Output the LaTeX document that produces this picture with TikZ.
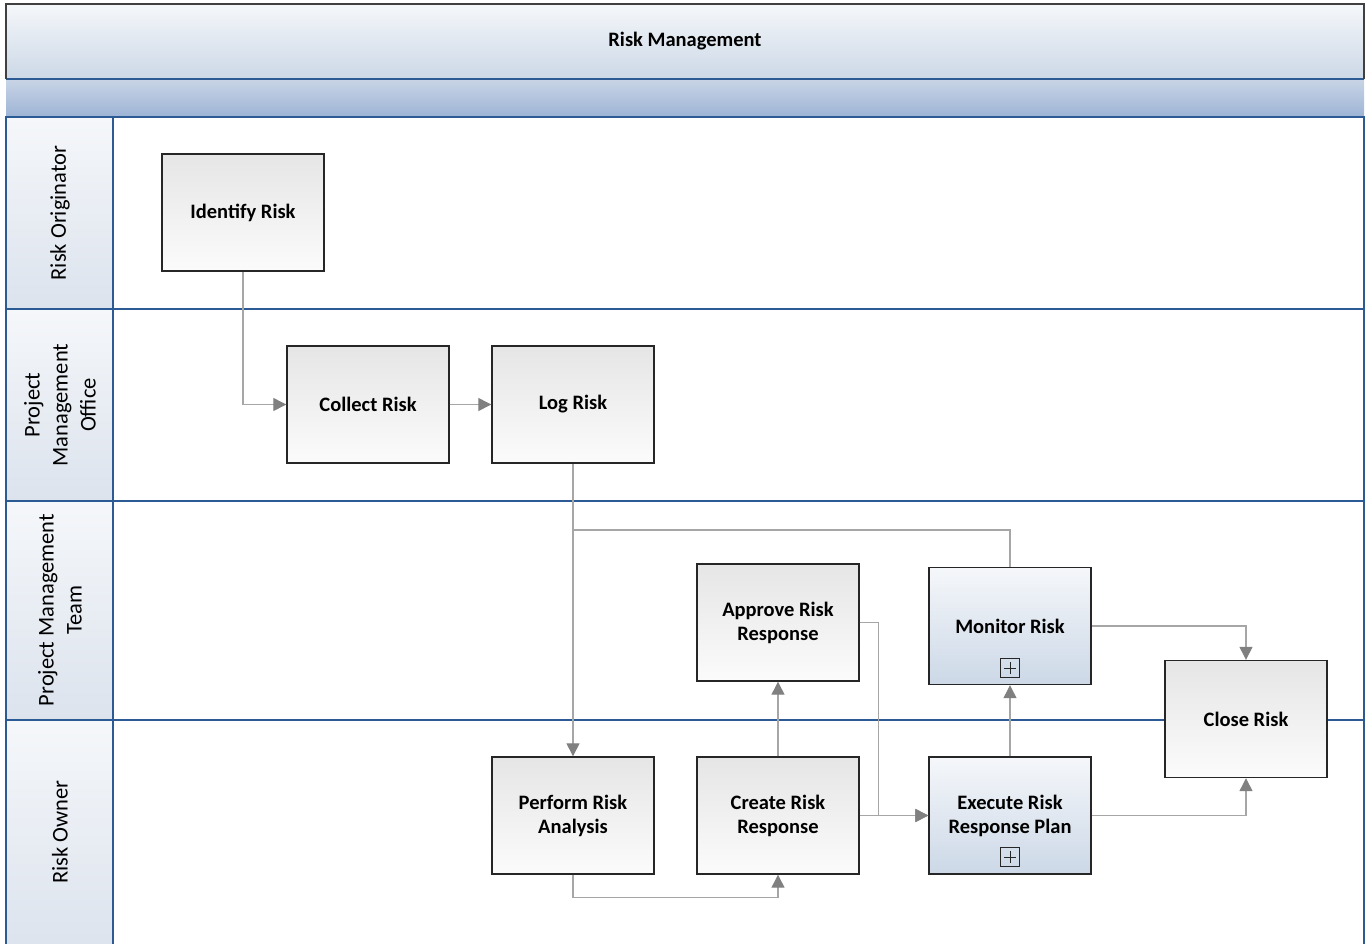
\documentclass[tikz,border=0pt]{standalone}
\usepackage{fontspec}
\setmainfont{Carlito}
\usetikzlibrary{arrows.meta}
\definecolor{lanedark}{HTML}{404040}
\definecolor{laneblue}{HTML}{2B5A94}
\definecolor{flowgray}{HTML}{A6A6A6}
\definecolor{tipgray}{HTML}{808080}
\definecolor{headbot}{HTML}{DCE3ED}
\definecolor{paletop}{HTML}{F5F7FA}
\definecolor{palebot}{HTML}{CCD8E7}
\definecolor{bandtop}{HTML}{C9D5E6}
\definecolor{bandbot}{HTML}{9DB3D5}
\tikzset{
  lanebox/.style={draw=laneblue, line width=1.3pt},
  lanetext/.style={rotate=90, align=center, font=\fontsize{22.5}{28}\selectfont, text=black},
  task/.style={draw=black!85, line width=1.4pt, minimum width=162pt, minimum height=117pt,
    align=center, font=\fontsize{20.5}{24}\bfseries\selectfont,
    top color=black!10, bottom color=black!1.5},
  subtask/.style={task, top color=paletop, bottom color=palebot},
  expander/.style={draw=black!85, line width=1.2pt, minimum size=19pt, inner sep=0pt,
    path picture={\draw[line width=0.9pt]
      ([xshift=-6pt]path picture bounding box.center) -- ([xshift=6pt]path picture bounding box.center)
      ([yshift=-6pt]path picture bounding box.center) -- ([yshift=6pt]path picture bounding box.center);}},
  flow/.style={draw=flowgray, line width=1.3pt},
  flowarrow/.style={flow, -{Triangle[length=13pt,width=13pt,color=tipgray]}},
}
\begin{document}
\begin{tikzpicture}[x=1pt,y=-1pt]
\useasboundingbox (0,0) rectangle (1366,943);

% title and sub-title bands
\shade[top color=paletop, bottom color=palebot] (6,4) rectangle (1364,79);
\node (title) at (685,41) {\fontsize{20.5}{24}\bfseries\selectfont Risk Management};
\shade[top color=bandtop, bottom color=bandbot] (6,79) rectangle (1364,117);
\draw[laneblue, line width=1.3pt] (6,79) -- (1364,79);
\draw[lanedark, line width=1.4pt] (6,79) |- (1364,4) -- (1364,79);

% swimlanes
\foreach \ya/\yb in {117/309, 309/501, 501/720, 720/950} {
  \shade[top color=paletop, bottom color=headbot] (6,\ya) rectangle (113,\yb);
  \draw[lanebox] (6,\ya) rectangle (1364,\yb);
  \draw[lanebox] (113,\ya) -- (113,\yb);
}
\node[lanetext] (laneRO)  at (60,213) {Risk Originator};
\node[lanetext] (lanePMO) at (60,405) {Project\\Management\\Office};
\node[lanetext] (lanePMT) at (60,610) {Project Management\\Team};
\node[lanetext] (laneOwn) at (60,832) {Risk Owner};

% join point of the two flows into the analysis step
\coordinate (join) at (573,530);

% tasks
\node[task] (ident)   at (243,212.5) {Identify Risk};
\node[task] (collect) at (368,404.5) {Collect Risk};
\node[task] (log)     at (573,404.5) {Log Risk};
\node[task] (approve) at (778,622.5) {Approve Risk\\Response};
\node[subtask] (monitor) at (1010,626) {Monitor Risk};
\node[task] (close)   at (1246,719) {Close Risk};
\node[task] (perform) at (573,815.5) {Perform Risk\\Analysis};
\node[task] (create)  at (778,815.5) {Create Risk\\Response};
\node[subtask] (execute) at (1010,815.5) {Execute Risk\\Response Plan};
\node[expander] (plusM) at (1010,668) {};
\node[expander] (plusE) at (1010,857) {};

% connectors
\draw[flowarrow] (ident.south) |- (collect.west);
\draw[flowarrow] (collect.east) -- (log.west);
\draw[flowarrow] (log.south) -- (perform.north);
\draw[flow] (monitor.north) |- (join);
\draw[flowarrow] (perform.south) -- ++(0,23) -| (create.south);
\draw[flowarrow] (create.north) -- (approve.south);
\draw[flowarrow] (approve.east) -- ++(19,0) |- (execute.west);
\draw[flowarrow] (create.east) -- (execute.west);
\draw[flowarrow] (execute.north) -- (monitor.south);
\draw[flowarrow] (monitor.east) -| (close.north);
\draw[flowarrow] (execute.east) -| (close.south);
\end{tikzpicture}
\end{document}
